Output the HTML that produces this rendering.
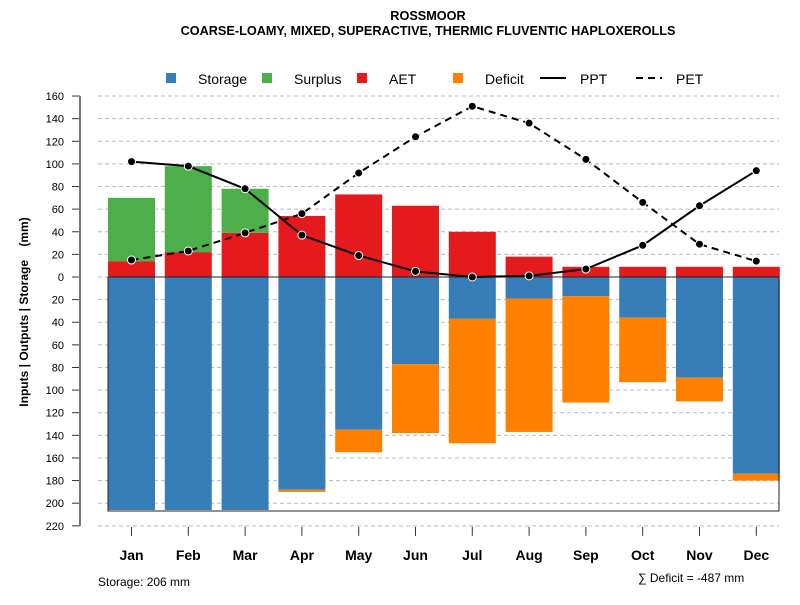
<!DOCTYPE html>
<html><head><meta charset="utf-8"><style>
body{margin:0;background:#fff;}
svg{font-family:"Liberation Sans",Arial,sans-serif;}
</style></head><body>
<svg id="chart" width="800" height="600" viewBox="0 0 800 600">
<text x="428" y="20" text-anchor="middle" font-size="12.7" font-weight="bold">ROSSMOOR</text>
<text x="428" y="35" text-anchor="middle" font-size="12.7" font-weight="bold">COARSE-LOAMY, MIXED, SUPERACTIVE, THERMIC FLUVENTIC HAPLOXEROLLS</text>
<g id="legend" font-size="14">
<rect x="166" y="73" width="10" height="10" fill="#377eb8"/>
<text x="198" y="84">Storage</text>
<rect x="262" y="73" width="10" height="10" fill="#4daf4a"/>
<text x="294" y="84">Surplus</text>
<rect x="357" y="73" width="10" height="10" fill="#e41a1c"/>
<text x="389" y="84">AET</text>
<rect x="453" y="73" width="10" height="10" fill="#ff7f00"/>
<text x="485" y="84">Deficit</text>
<line x1="540" y1="78" x2="566" y2="78" stroke="#000" stroke-width="2"/>
<text x="580" y="84">PPT</text>
<line x1="636" y1="78" x2="662" y2="78" stroke="#000" stroke-width="2" stroke-dasharray="7,5"/>
<text x="676" y="84">PET</text>
</g>
<text transform="translate(28,312) rotate(-90)" text-anchor="middle" font-size="12" font-weight="bold" style="white-space:pre">Inputs | Outputs | Storage    (mm)</text>
<text x="98" y="586" font-size="12">Storage: 206 mm</text>
<text x="638" y="582" font-size="12">∑ Deficit = -487 mm</text>
<g id="grid"></g><g id="bars"></g><g id="axes"></g><g id="lines"></g>
</svg>
<script>
const months=["Jan","Feb","Mar","Apr","May","Jun","Jul","Aug","Sep","Oct","Nov","Dec"];
const aet=[14,22,39,54,73,63,40,18,9,9,9,9];
const surplus=[56,76,39,0,0,0,0,0,0,0,0,0];
const storage=[206,206,206,188,135,77,37,19,17,36,89,174];
const deficit=[0,0,0,2,20,61,110,118,94,57,21,6];
const ppt=[102,98,78,37,19,5,0,1,7,28,63,94];
const pet=[15,23,39,56,92,124,151,136,104,66,29,14];
const yTicks=[160,140,120,100,80,60,40,20,0,20,40,60,80,100,120,140,160,180,200,220];
const NS="http://www.w3.org/2000/svg";
function y(v){return 277-v*1.131;}
function x(i){return 131.5+i*56.8;}
const BW=47;
function mk(tag,attrs,parent){const e=document.createElementNS(NS,tag);for(const k in attrs)e.setAttribute(k,attrs[k]);document.getElementById(parent).appendChild(e);return e;}
yTicks.forEach((t,i)=>{
  const v=i<=8?t:-t;const yy=y(v);
  const g=mk("line",{x1:98,x2:779,y1:yy,y2:yy,stroke:"#bbb","stroke-dasharray":"4,3"},"grid");
  
  
  const tk=mk("line",{x1:72,x2:80,y1:yy,y2:yy,stroke:"#333"},"axes");
  
  
  const tl=mk("text",{x:64,y:yy+4,"text-anchor":"end","font-size":"11"},"axes");tl.textContent=t;
  
  
});
const ax=mk("line",{x1:80,x2:80,y1:y(160),y2:y(-220),stroke:"#777","stroke-width":2},"axes");


months.forEach((m,i)=>{
  const cx=x(i),l=cx-BW/2;
  const s=mk("rect",{x:l,y:y(0),width:BW,height:y(-storage[i])-y(0),fill:"#377eb8"},"bars");
  
  
  if(deficit[i]>0){const d=mk("rect",{x:l,y:y(-storage[i]),width:BW,height:y(-storage[i]-deficit[i])-y(-storage[i]),fill:"#ff7f00"},"bars");
  
  }
  const a=mk("rect",{x:l,y:y(aet[i]),width:BW,height:y(0)-y(aet[i]),fill:"#e41a1c"},"bars");
  
  
  if(surplus[i]>0){const su=mk("rect",{x:l,y:y(aet[i]+surplus[i]),width:BW,height:y(aet[i])-y(aet[i]+surplus[i]),fill:"#4daf4a"},"bars");
  
  }
  const tk=mk("line",{x1:cx,x2:cx,y1:y(-220)+1,y2:y(-220)+10,stroke:"#333"},"axes");
  
  
  const tl=mk("text",{x:cx,y:560,"text-anchor":"middle","font-size":"14","font-weight":"bold"},"axes");tl.textContent=m;
  
  
});
const fr=mk("polyline",{points:`108,${y(0)} 108,511 779,511 779,${y(0)}`,fill:"none",stroke:"#222"},"axes");


const zl=mk("line",{x1:108,x2:779,y1:y(0),y2:y(0),stroke:"#222"},"axes");


function series(vals,dash,name){
  const p=mk("polyline",{points:vals.map((v,i)=>x(i)+","+y(v)).join(" "),fill:"none",stroke:"#000","stroke-width":2,"stroke-dasharray":dash},"lines");
  
  
  vals.forEach((v,i)=>{const c=mk("circle",{cx:x(i),cy:y(v),r:4,fill:"#000",stroke:"#fff","stroke-width":1},"lines");
  
  });
}
series(pet,"7,5","pet");
series(ppt,"none","ppt");
</script>
</body></html>
